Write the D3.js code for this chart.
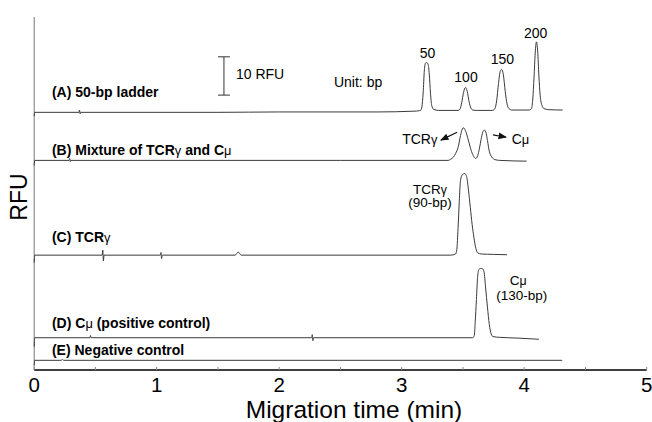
<!DOCTYPE html>
<html><head><meta charset="utf-8">
<script src="https://cdn.jsdelivr.net/npm/d3@7"></script>
<style>
body{margin:0;background:#fff;}
svg{display:block;font-family:"Liberation Sans",Arial,sans-serif;}
</style></head>
<body>
<svg id="c" width="652" height="422"></svg>
<script>
// ---- data (time in min, signal in RFU above each trace baseline) ----
const xTicks = [0, 1, 2, 3, 4, 5];
const xMinorTicks = [0.5, 1.5, 2.5, 3.5, 4.5];
const traceNames = ["A", "B", "C", "D", "E"];
const traceOffsets = [67.3, 54.75, 30.0, 8.43, 2.53]; // RFU baseline of each trace
const traceA = [[0,-1.0],[0.004,0],[0.365,0],[0.37,0.6],[0.375,-0.4],[0.38,0],[1.5,0],[2.0,0.1],[2.8,0.1],[3.1,0.3],[3.14,0.4],
  [3.155,0.5],[3.165,1.5],[3.175,5],[3.185,11],[3.195,12.9],[3.205,13.0],[3.215,12.6],[3.225,10],[3.235,5],[3.245,1.8],[3.26,0.8],[3.30,0.5],
  [3.46,0.5],[3.475,0.8],[3.49,2.5],[3.505,5.2],[3.52,6.5],[3.535,5.5],[3.55,2.8],[3.565,1.1],[3.58,0.6],[3.62,0.5],
  [3.74,0.5],[3.76,0.9],[3.775,3],[3.79,7.5],[3.805,10.8],[3.816,11.2],[3.83,9.8],[3.845,5.5],[3.86,2.2],[3.875,1.0],[3.9,0.6],
  [4.04,0.6],[4.06,1.0],[4.07,3.5],[4.08,9],[4.09,15.5],[4.10,18.4],[4.11,16],[4.12,9.5],[4.13,4.5],[4.145,1.8],[4.16,1.0],[4.2,0.7],[4.314,0.6]];
const traceB = [[0,-1.3],[0.004,0],[0.285,0],[0.29,0.5],[0.295,-0.3],[0.30,0],[2.5,0],[3.38,0],
  [3.40,0.3],[3.42,0.8],[3.44,1.8],[3.462,3.6],[3.48,6.5],[3.495,8.2],[3.505,8.5],[3.52,7.8],[3.544,5.3],[3.565,2.8],[3.585,1.2],[3.604,0.5],
  [3.62,1.2],[3.635,3.2],[3.648,5.5],[3.662,7.4],[3.675,7.9],[3.69,7.0],[3.70,5.2],[3.715,2.4],[3.735,0.9],[3.762,0.2],[3.80,0],[4.02,-0.2]];
const traceC = [[0,-2.0],[0.004,0],[0.555,0],[0.56,1.3],[0.565,-1.5],[0.57,0],[1.03,0],[1.035,0.7],[1.04,-0.9],[1.045,0],
  [1.64,0],[1.665,0.8],[1.69,0],[3.40,0],
  [3.44,0.3],[3.45,1.5],[3.46,7],[3.47,14],[3.48,19.5],[3.495,21],[3.515,21.3],[3.53,20.5],[3.545,17],[3.56,12.5],[3.575,8],[3.59,4.5],[3.605,1.8],[3.62,0.6],[3.65,0.3],[3.75,0.2],[3.86,0.1]];
const traceD = [[0,-2.3],[0.004,0],[0.455,0],[0.46,0.6],[0.465,0],[2.265,0],[2.27,0.8],[2.275,-0.8],[2.28,0],[3.58,0],
  [3.592,0.5],[3.60,4],[3.61,10],[3.62,16],[3.63,17.8],[3.645,18.1],[3.66,18],[3.672,17.2],[3.685,13],[3.70,8],[3.715,3.5],[3.73,1],[3.745,0.3],[3.8,0.1],[3.95,-0.1],[4.12,-0.4]];
const traceE = [[0,-1.3],[0.004,0],[0.22,0],[0.23,0.2],[0.24,0],[4.31,0]];
const traces = [traceA, traceB, traceC, traceD, traceE];

const traceLabels = ["(A) 50-bp ladder", "(B) Mixture of TCR|γ| and C|μ|", "(C) TCR|γ|", "(D) C|μ| (positive control)", "(E) Negative control"];
const traceLabelY = [71.3, 56.1, 33.5, 11.0, 3.9];
const ladderSizes = ["50", "100", "150", "200"];
const ladderTimes = [3.21, 3.525, 3.822, 4.094];
const ladderLabelY = [81.6, 75.3, 79.9, 86.8];
const scaleBarRFU = 10;

// ---- layout ----
const svg = d3.select("#c");
const x = d3.scaleLinear().domain([0, 5]).range([34.2, 646.7]);
const y = d3.scaleLinear().domain([0, 92.2]).range([370, 17]);

// y axis line
svg.append("line").attr("x1", x(0)).attr("x2", x(0)).attr("y1", y(92.2)).attr("y2", y(0))
  .attr("stroke", "#777").attr("stroke-width", 1);

// traces
const line = d3.line().curve(d3.curveMonotoneX);
traces.forEach((tr, i) => {
  svg.append("path")
    .attr("d", line(tr.map(p => [x(p[0]), y(p[1] + traceOffsets[i])])))
    .attr("fill", "none").attr("stroke", "#3a3a3a").attr("stroke-width", 1);
});

// x axis
const ax = svg.append("g").attr("transform", `translate(0,${y(0)})`);
ax.append("line").attr("x1", x(0)).attr("x2", x(5)).attr("stroke", "#000").attr("stroke-width", 1.6);
ax.selectAll(".mt").data(xTicks.concat(xMinorTicks)).join("line")
  .attr("x1", d => x(d)).attr("x2", d => x(d)).attr("y1", 0).attr("y2", -3)
  .attr("stroke", "#888").attr("stroke-width", 1);
ax.selectAll(".tl").data(xTicks).join("text")
  .attr("x", d => x(d)).attr("y", 21.5).attr("text-anchor", "middle")
  .attr("font-size", 20.5).text(d => d);

svg.append("text").attr("x", 354).attr("y", 418).attr("text-anchor", "middle")
  .attr("font-size", 24.5).text("Migration time (min)");
svg.append("text").attr("transform", "translate(27,197) rotate(-90)").attr("text-anchor", "middle")
  .attr("font-size", 23).text("RFU");

// helper for greek letters
function richText(sel, str) {
  str.split("|").forEach((part, k) => {
    if (!part) return;
    const t = sel.append("tspan").text(part);
    if (k % 2 === 1) t.attr("font-weight", "normal").attr("font-size", "0.92em");
  });
}

// trace labels
traceLabels.forEach((lab, i) => {
  const t = svg.append("text").attr("x", x(0.145)).attr("y", y(traceLabelY[i]))
    .attr("font-size", 14).attr("font-weight", "bold");
  richText(t, lab);
});

// ladder labels
ladderSizes.forEach((s, i) => {
  svg.append("text").attr("x", x(ladderTimes[i])).attr("y", y(ladderLabelY[i]))
    .attr("text-anchor", "middle").attr("font-size", 14).text(s);
});
svg.append("text").attr("x", x(2.447)).attr("y", y(74.0)).attr("font-size", 14).text("Unit: bp");

// scale bar
const sbX = x(1.549), sb0 = y(71.8), sb1 = y(71.8 + scaleBarRFU);
svg.append("line").attr("x1", sbX).attr("x2", sbX).attr("y1", sb0).attr("y2", sb1).attr("stroke", "#333");
[sb0, sb1].forEach(v => svg.append("line").attr("x1", sbX - 6).attr("x2", sbX + 6).attr("y1", v).attr("y2", v).attr("stroke", "#333"));
svg.append("text").attr("x", x(1.647)).attr("y", y(75.9)).attr("font-size", 14).text("10 RFU");

// B annotations with arrows
const defs = svg.append("defs");
defs.append("marker").attr("id", "ah").attr("viewBox", "0 0 10 10").attr("refX", 9).attr("refY", 5)
  .attr("markerWidth", 7).attr("markerHeight", 7).attr("orient", "auto")
  .append("path").attr("d", "M0,1 L10,5 L0,9 Z").attr("fill", "#111");
let t1 = svg.append("text").attr("x", x(3.291)).attr("y", y(59.0)).attr("text-anchor", "end").attr("font-size", 14);
richText(t1, "TCR|γ|");
svg.append("line").attr("x1", x(3.452)).attr("y1", y(62.1)).attr("x2", x(3.32)).attr("y2", y(60.05))
  .attr("stroke", "#111").attr("stroke-width", 1.2).attr("marker-end", "url(#ah)");
svg.append("line").attr("x1", x(3.745)).attr("y1", y(61.4)).attr("x2", x(3.852)).attr("y2", y(60.8))
  .attr("stroke", "#111").attr("stroke-width", 1.2).attr("marker-end", "url(#ah)");
let t2 = svg.append("text").attr("x", x(3.898)).attr("y", y(59.0)).attr("font-size", 14);
richText(t2, "C|μ|");

// C annotation
let t3 = svg.append("text").attr("x", x(3.231)).attr("y", y(46.1)).attr("text-anchor", "middle").attr("font-size", 13.5);
richText(t3, "TCR|γ|");
svg.append("text").attr("x", x(3.231)).attr("y", y(42.5)).attr("text-anchor", "middle").attr("font-size", 13.5).text("(90-bp)");
// D annotation
let t4 = svg.append("text").attr("x", x(3.952)).attr("y", y(22.3)).attr("text-anchor", "middle").attr("font-size", 13.5);
richText(t4, "C|μ|");
svg.append("text").attr("x", x(3.98)).attr("y", y(18.4)).attr("text-anchor", "middle").attr("font-size", 13.5).text("(130-bp)");
</script>
</body></html>
